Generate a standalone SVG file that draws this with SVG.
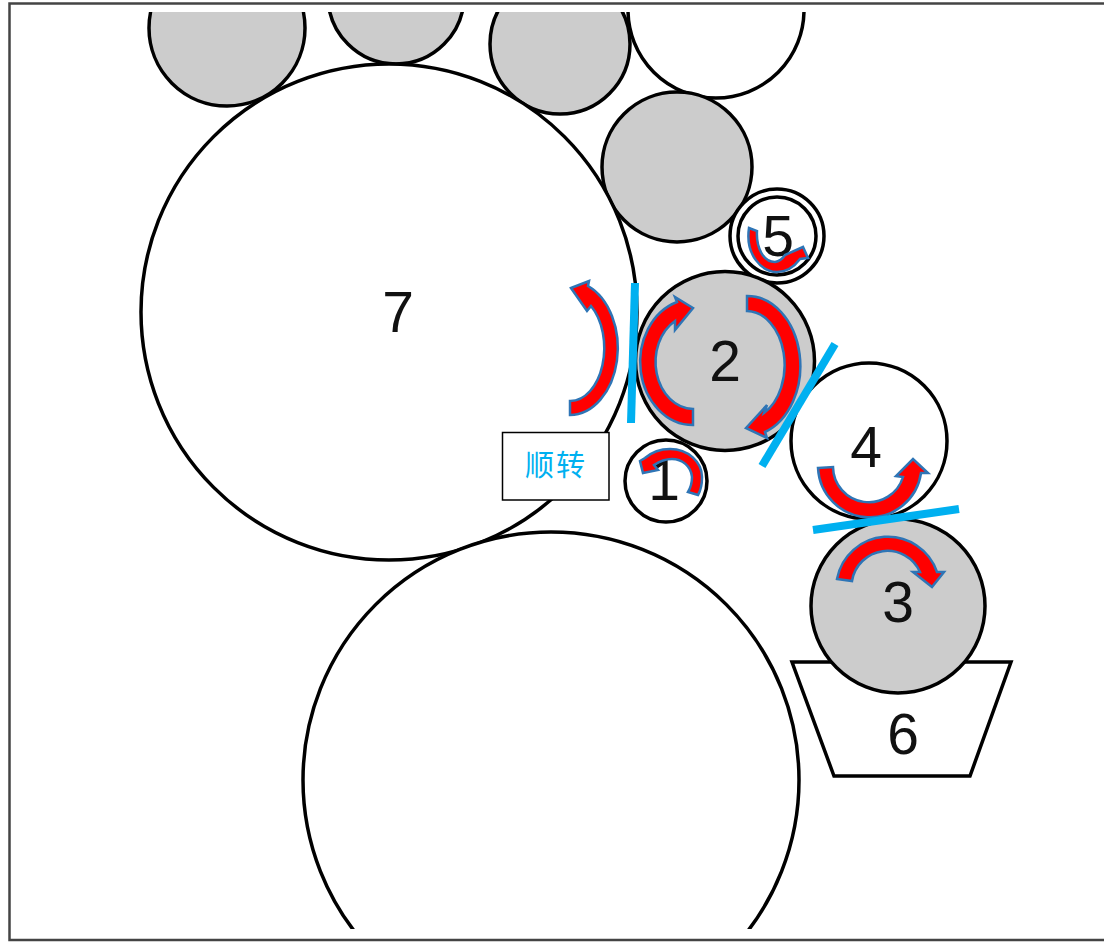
<svg xmlns="http://www.w3.org/2000/svg" width="1104" height="943" viewBox="0 0 1104 943">
<style>
.c{stroke:#000;stroke-width:3.5;fill:#fff}
.g{fill:#ccc}
.t{font-family:"Liberation Sans",Arial,sans-serif;font-size:57px;fill:#111;text-anchor:middle}
.a{fill:#f00;stroke:#2e75b6;stroke-width:2.5;stroke-linejoin:miter}
.b{stroke:#00b0f0;stroke-width:8;fill:none}
</style>
<defs>
<clipPath id="top"><rect x="0" y="12" width="1104" height="931"/></clipPath>
<clipPath id="bot"><rect x="0" y="0" width="1104" height="929"/></clipPath>
</defs>
<rect width="1104" height="943" fill="#fff"/>
<path id="frame" d="M1104,3.5H9.5V940H1104" fill="none" stroke="#444" stroke-width="2.5"/>
<g id="top-rollers" clip-path="url(#top)">
<circle class="c g" cx="227" cy="28" r="78"/>
<circle class="c g" cx="396" cy="-4" r="68"/>
<circle class="c g" cx="560" cy="44" r="70"/>
<circle class="c" cx="716" cy="10" r="88"/>
</g>
<g id="node-gray"><circle class="c g" cx="677" cy="167" r="75"/></g>
<g id="node-7"><circle class="c" cx="389" cy="312" r="248"/><text class="t" x="398" y="332">7</text></g>
<g id="node-bottom" clip-path="url(#bot)"><circle class="c" cx="551" cy="780" r="248"/></g>
<g id="node-5"><circle class="c" cx="777" cy="236" r="47"/><circle class="c" cx="777" cy="236" r="39"/><text class="t" x="778" y="256">5</text></g>
<g id="node-2"><circle class="c g" cx="725" cy="361" r="89.5"/><text class="t" x="725" y="381">2</text></g>
<g id="node-1"><circle class="c" cx="666" cy="481" r="41"/><text class="t" x="664" y="500">1</text></g>
<g id="node-4"><circle class="c" cx="869" cy="441" r="78"/><text class="t" x="866" y="467">4</text></g>
<g id="node-6"><path d="M792,662H1011L970,776H834Z" fill="#fff" stroke="#000" stroke-width="3.5"/><text class="t" x="903" y="754">6</text></g>
<g id="node-3"><circle class="c g" cx="898" cy="606" r="87"/><text class="t" x="898" y="622">3</text></g>
<g id="label"><rect x="502.5" y="432.5" width="106.5" height="67.5" fill="#fff" stroke="#000" stroke-width="1.5"/><text x="556" y="476" font-family="'Noto Sans CJK SC','Liberation Sans',sans-serif" font-size="29" letter-spacing="2" fill="#00b0f0" text-anchor="middle">顺转</text></g>
<g id="connectors">
<path class="a" d="M571,288L589,281L588,286A48,67 0 0 1 570,415V401A34,53 0 0 0 591,306L587,311Z"/>
<path class="a" d="M693,308L675,297L677,302A53,63 0 0 0 693,425V409A38,47 0 0 1 675,321L675,330Z"/>
<path class="a" d="M747,296A53,70 0 0 1 765,432L767,438L746,428L767,405L764,413A38,54 0 0 0 747,311Z"/>
<path class="a" d="M749,228L757,231C756,247 763,262 775,262Q781,261 785,255L803,247L808,258L800,259C794,267 786,272 777,272C762,272 745,255 749,228Z"/>
<path class="a" d="M640,461L645,458C652,452 661,449 670,449C688,449 702,462 702,477C702,484 701,490 698,495L688,492C691,487 692,482 692,477C691,466 682,459 672,459C666,459 660,461 654,465L658,470L643,473Z"/>
<path class="a" d="M818,468L833,467A35.8,35.8 0 0 0 903,477L896,476L913,459L928,473L921,473A51.8,51.8 0 0 1 818,468Z"/>
<path class="a" d="M837,579L852,581A35.8,35.8 0 0 1 920,572L913,572L932,587L944,572L937,572A51.8,51.8 0 0 0 837,579Z"/>
<path class="b" d="M635,283L631,423"/>
<path class="b" d="M835,344L762,466"/>
<path class="b" d="M813,530L959,509"/>
</g>
</svg>
